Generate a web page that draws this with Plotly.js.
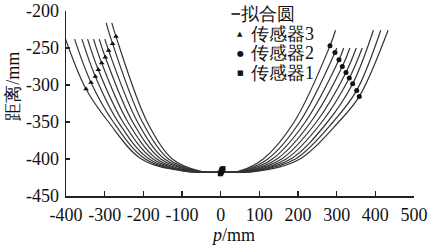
<!DOCTYPE html>
<html><head><meta charset="utf-8">
<script src="https://cdn.plot.ly/plotly-3.0.1.min.js"></script>
<style>html,body{margin:0;padding:0;background:#fff;}#chart{width:430px;height:247px;}</style>
</head><body><div id="chart"></div>
<script>
// ---- sensor measurements (mm) ----
const sensor3X = [-270.7,-279.4,-289.8,-298.4,-307.7,-316.5,-324.2,-335.4,-348.3];
const sensor3Y = [-234.6,-244.4,-253.4,-262.4,-270.4,-279.4,-288.4,-296.5,-305.4];
const sensor2X = [282.7,295.6,306.0,314.6,324.1,332.7,341.4,351.8,358.5];
const sensor2Y = [-247.1,-256.1,-266.0,-275.0,-283.0,-290.6,-298.3,-307.3,-315.4];
const sensor1X = [-1,0,1,2,3,3,4,5,6];
const sensor1Y = [-420,-419,-418,-417,-416,-415,-414,-414,-413];

// ---- fitted circles: points ----
const fitTopLX = [-281.6,-296.2,-299.5,-314.0,-328.8,-344.2,-358.8,-377.8,-401.2];
const fitTopLY = [-216,-216,-238,-238,-238,-238,-238,-238,-238];
const fitL350X = [-190,-202.5,-215,-227.5,-240,-252.5,-265,-277.5,-290];
const fitL400X = [-125,-135,-145,-155,-165,-175,-185,-195,-205];
const fitL416X = [-56,-61.5,-67,-72.5,-78,-83.5,-89,-94.5,-100];
const fitBotX  = [2,2,2,2,2,2,2,2,2];
const fitBotY  = [-418,-418,-418,-418,-418,-418,-418,-418,-418];
const fitR416X = [50,56,62.5,69,75,81,87.5,94,100];
const fitR400X = [110,121.9,133.8,145.6,157.5,169.4,181.3,193.1,205];
const fitR350X = [190,204.4,218.8,233.1,247.5,261.9,276.3,290.6,305];
const fitTopRX = [297.0,300.1,318.2,334.1,350.6,366.1,395,414,433];
const fitTopRY = [-226,-250,-250,-250,-250,-250,-226,-226,-226];
const fitLevelY = [-350,-400,-416];

const xTickVals = [-400,-300,-200,-100,0,100,200,300,400,500];
const xTickText = ['-400','-300','-200','-100','0','100','200','300','400','500'];
const yTickVals = [-450,-400,-350,-300,-250,-200];
const yTickText = ['-450','-400','-350','-300','-250','-200'];

const legendLabels = ['拟合圆','传感器3','传感器2','传感器1'];

const FONT = 'Liberation Serif';
const traces = [];
for (let k = 0; k < sensor3X.length; k++) {
  traces.push({
    type:'scatter', mode:'lines', showlegend:false, hoverinfo:'skip',
    x:[fitTopLX[k], sensor3X[k], fitL350X[k], fitL400X[k], fitL416X[k], fitBotX[k],
       fitR416X[k], fitR400X[k], fitR350X[k], sensor2X[k], fitTopRX[k]],
    y:[fitTopLY[k], sensor3Y[k], fitLevelY[0], fitLevelY[1], fitLevelY[2], fitBotY[k],
       fitLevelY[2], fitLevelY[1], fitLevelY[0], sensor2Y[k], fitTopRY[k]],
    line:{shape:'spline', smoothing:1, color:'#333', width:1.2}
  });
}
traces.push({type:'scatter', mode:'markers', x:sensor3X, y:sensor3Y, showlegend:false,
  marker:{symbol:'triangle-up', size:5, color:'#111'}});
traces.push({type:'scatter', mode:'markers', x:sensor2X, y:sensor2Y, showlegend:false,
  marker:{symbol:'circle', size:5, color:'#111'}});
traces.push({type:'scatter', mode:'markers', x:sensor1X, y:sensor1Y, showlegend:false,
  marker:{symbol:'square', size:5, color:'#111'}});

const L = 66, R = 16, T = 11, B = 50.5, W = 430, H = 247;
const px = v => (v - L) / (W - L - R);
const py = v => (H - B - v) / (H - T - B);

const ann = [];
const rowsY = [14, 34, 53.5, 73];
ann.push({xref:'paper', yref:'paper', x:px(239), y:py(rowsY[0]), xanchor:'left', yanchor:'middle',
  text:legendLabels[0], showarrow:false, font:{family:FONT, size:18, color:'#111'}});
const syms = ['▲','●','■'];
const symSizes = [7,8,7];
for (let i = 1; i < 4; i++) {
  ann.push({xref:'paper', yref:'paper', x:px(240), y:py(rowsY[i]), xanchor:'center', yanchor:'middle',
    text:syms[i-1], showarrow:false, font:{family:'DejaVu Sans', size:symSizes[i-1], color:'#111'}});
  ann.push({xref:'paper', yref:'paper', x:px(249), y:py(rowsY[i]), xanchor:'left', yanchor:'middle',
    text:legendLabels[i], showarrow:false, font:{family:FONT, size:18, color:'#111'}});
}
ann.push({xref:'paper', yref:'paper', x:px(13), y:py(87), xanchor:'center', yanchor:'middle',
  textangle:-90, text:'距离/mm', showarrow:false, font:{family:FONT, size:18, color:'#111'}});
ann.push({xref:'paper', yref:'paper', x:px(233), y:py(236), xanchor:'center', yanchor:'middle',
  text:'<i>p</i>/mm', showarrow:false, font:{family:FONT, size:18, color:'#111'}});

const layout = {
  width:W, height:H, margin:{l:L, r:R, t:T, b:B},
  paper_bgcolor:'#fff', plot_bgcolor:'#fff', showlegend:false,
  font:{family:FONT, size:17, color:'#111'},
  shapes:[{type:'line', xref:'paper', yref:'paper', x0:px(231.5), x1:px(240), y0:py(rowsY[0]), y1:py(rowsY[0]),
    line:{color:'#111', width:1.6}}],
  xaxis:{range:[-400,500], tickmode:'array', tickvals:xTickVals, ticktext:xTickText,
    ticks:'inside', ticklen:5, tickwidth:1.3, tickcolor:'#222', showline:true, linecolor:'#222', linewidth:1.5,
    showgrid:false, zeroline:false, tickfont:{family:FONT, size:18, color:'#111'}, ticklabelstandoff:2},
  yaxis:{range:[-450,-200], tickmode:'array', tickvals:yTickVals, ticktext:yTickText,
    ticks:'inside', ticklen:4, tickwidth:1.3, tickcolor:'#222', showline:true, linecolor:'#222', linewidth:1.5,
    showgrid:false, zeroline:false, tickfont:{family:FONT, size:18, color:'#111'}, ticklabelstandoff:2},
  annotations:ann
};
Plotly.newPlot('chart', traces, layout, {staticPlot:true, displayModeBar:false});
</script></body></html>
